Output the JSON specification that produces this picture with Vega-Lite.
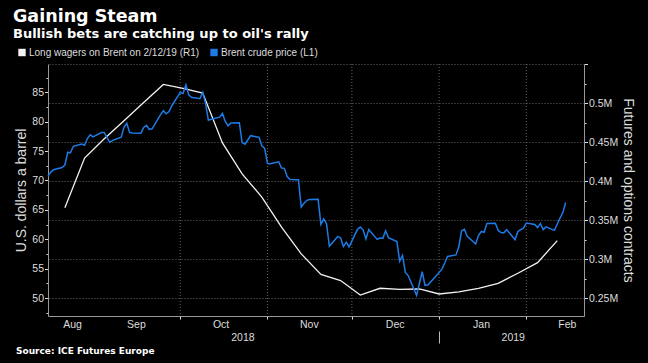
{
  "$schema": "https://vega.github.io/schema/vega-lite/v6.json",
  "width": 536,
  "height": 252,
  "autosize": "none",
  "padding": {"left": 48, "top": 64, "right": 64, "bottom": 47},
  "background": "#000000",
  "title": {
    "text": "Gaining Steam",
    "subtitle": "Bullish bets are catching up to oil's rally",
    "anchor": "start",
    "frame": "group",
    "dx": -35,
    "offset": 7,
    "font": "DejaVu Sans",
    "fontSize": 17.5,
    "fontWeight": "bold",
    "color": "#ffffff",
    "subtitleFont": "DejaVu Sans",
    "subtitleFontSize": 13,
    "subtitleFontWeight": "bold",
    "subtitleColor": "#ffffff",
    "subtitlePadding": 2
  },
  "datasets": {
    "brent": [
      {"date": "2018-08-15", "price": 70.76},
      {"date": "2018-08-16", "price": 71.43},
      {"date": "2018-08-17", "price": 71.83},
      {"date": "2018-08-20", "price": 72.21},
      {"date": "2018-08-21", "price": 72.63},
      {"date": "2018-08-22", "price": 74.78},
      {"date": "2018-08-23", "price": 74.73},
      {"date": "2018-08-24", "price": 75.82},
      {"date": "2018-08-27", "price": 76.21},
      {"date": "2018-08-28", "price": 76.0},
      {"date": "2018-08-29", "price": 77.14},
      {"date": "2018-08-30", "price": 77.77},
      {"date": "2018-08-31", "price": 77.42},
      {"date": "2018-09-03", "price": 78.15},
      {"date": "2018-09-04", "price": 78.17},
      {"date": "2018-09-05", "price": 77.27},
      {"date": "2018-09-06", "price": 76.5},
      {"date": "2018-09-07", "price": 76.83},
      {"date": "2018-09-10", "price": 77.37},
      {"date": "2018-09-11", "price": 79.06},
      {"date": "2018-09-12", "price": 79.74},
      {"date": "2018-09-13", "price": 78.18},
      {"date": "2018-09-14", "price": 78.09},
      {"date": "2018-09-17", "price": 78.05},
      {"date": "2018-09-18", "price": 79.03},
      {"date": "2018-09-19", "price": 79.4},
      {"date": "2018-09-20", "price": 78.7},
      {"date": "2018-09-21", "price": 78.8},
      {"date": "2018-09-24", "price": 81.2},
      {"date": "2018-09-25", "price": 81.87},
      {"date": "2018-09-26", "price": 81.34},
      {"date": "2018-09-27", "price": 81.72},
      {"date": "2018-09-28", "price": 82.72},
      {"date": "2018-10-01", "price": 84.98},
      {"date": "2018-10-02", "price": 84.8},
      {"date": "2018-10-03", "price": 86.29},
      {"date": "2018-10-04", "price": 84.58},
      {"date": "2018-10-05", "price": 84.16},
      {"date": "2018-10-08", "price": 83.91},
      {"date": "2018-10-09", "price": 85.0},
      {"date": "2018-10-10", "price": 83.09},
      {"date": "2018-10-11", "price": 80.26},
      {"date": "2018-10-12", "price": 80.43},
      {"date": "2018-10-15", "price": 80.78},
      {"date": "2018-10-16", "price": 81.41},
      {"date": "2018-10-17", "price": 80.05},
      {"date": "2018-10-18", "price": 79.29},
      {"date": "2018-10-19", "price": 79.78},
      {"date": "2018-10-22", "price": 79.83},
      {"date": "2018-10-23", "price": 76.44},
      {"date": "2018-10-24", "price": 76.17},
      {"date": "2018-10-25", "price": 76.89},
      {"date": "2018-10-26", "price": 77.62},
      {"date": "2018-10-29", "price": 77.34},
      {"date": "2018-10-30", "price": 75.91},
      {"date": "2018-10-31", "price": 75.47},
      {"date": "2018-11-01", "price": 72.89},
      {"date": "2018-11-02", "price": 72.83},
      {"date": "2018-11-05", "price": 73.17},
      {"date": "2018-11-06", "price": 72.13},
      {"date": "2018-11-07", "price": 72.07},
      {"date": "2018-11-08", "price": 70.65},
      {"date": "2018-11-09", "price": 70.18},
      {"date": "2018-11-12", "price": 70.12},
      {"date": "2018-11-13", "price": 65.47},
      {"date": "2018-11-14", "price": 66.12},
      {"date": "2018-11-15", "price": 66.62},
      {"date": "2018-11-16", "price": 66.76},
      {"date": "2018-11-19", "price": 66.79},
      {"date": "2018-11-20", "price": 62.53},
      {"date": "2018-11-21", "price": 63.48},
      {"date": "2018-11-22", "price": 62.6},
      {"date": "2018-11-23", "price": 58.8},
      {"date": "2018-11-26", "price": 60.48},
      {"date": "2018-11-27", "price": 60.21},
      {"date": "2018-11-28", "price": 58.76},
      {"date": "2018-11-29", "price": 59.51},
      {"date": "2018-11-30", "price": 58.71},
      {"date": "2018-12-03", "price": 61.69},
      {"date": "2018-12-04", "price": 62.08},
      {"date": "2018-12-05", "price": 61.56},
      {"date": "2018-12-06", "price": 60.06},
      {"date": "2018-12-07", "price": 61.67},
      {"date": "2018-12-10", "price": 59.97},
      {"date": "2018-12-11", "price": 60.2},
      {"date": "2018-12-12", "price": 60.15},
      {"date": "2018-12-13", "price": 61.45},
      {"date": "2018-12-14", "price": 60.28},
      {"date": "2018-12-17", "price": 59.61},
      {"date": "2018-12-18", "price": 56.26},
      {"date": "2018-12-19", "price": 57.24},
      {"date": "2018-12-20", "price": 54.35},
      {"date": "2018-12-21", "price": 53.82},
      {"date": "2018-12-24", "price": 50.47},
      {"date": "2018-12-26", "price": 54.47},
      {"date": "2018-12-27", "price": 52.16},
      {"date": "2018-12-28", "price": 52.2},
      {"date": "2018-12-31", "price": 53.8},
      {"date": "2019-01-02", "price": 54.91},
      {"date": "2019-01-03", "price": 55.95},
      {"date": "2019-01-04", "price": 57.06},
      {"date": "2019-01-07", "price": 57.33},
      {"date": "2019-01-08", "price": 58.72},
      {"date": "2019-01-09", "price": 61.44},
      {"date": "2019-01-10", "price": 61.68},
      {"date": "2019-01-11", "price": 60.48},
      {"date": "2019-01-14", "price": 59.2},
      {"date": "2019-01-15", "price": 60.64},
      {"date": "2019-01-16", "price": 61.32},
      {"date": "2019-01-17", "price": 61.18},
      {"date": "2019-01-18", "price": 62.7},
      {"date": "2019-01-21", "price": 62.74},
      {"date": "2019-01-22", "price": 61.5},
      {"date": "2019-01-23", "price": 61.14},
      {"date": "2019-01-24", "price": 61.09},
      {"date": "2019-01-25", "price": 61.64},
      {"date": "2019-01-28", "price": 59.93},
      {"date": "2019-01-29", "price": 61.32},
      {"date": "2019-01-30", "price": 61.65},
      {"date": "2019-01-31", "price": 61.89},
      {"date": "2019-02-01", "price": 62.75},
      {"date": "2019-02-04", "price": 62.51},
      {"date": "2019-02-05", "price": 61.98},
      {"date": "2019-02-06", "price": 62.69},
      {"date": "2019-02-07", "price": 61.63},
      {"date": "2019-02-08", "price": 62.1},
      {"date": "2019-02-11", "price": 61.51},
      {"date": "2019-02-12", "price": 62.6},
      {"date": "2019-02-13", "price": 63.61},
      {"date": "2019-02-14", "price": 64.57},
      {"date": "2019-02-15", "price": 66.25}
    ],
    "cot": [
      {"date": "2018-08-21", "contracts": 365800},
      {"date": "2018-08-28", "contracts": 429500},
      {"date": "2018-09-04", "contracts": 454200},
      {"date": "2018-09-11", "contracts": 477400},
      {"date": "2018-09-18", "contracts": 500600},
      {"date": "2018-09-25", "contracts": 523800},
      {"date": "2018-10-02", "contracts": 518700},
      {"date": "2018-10-09", "contracts": 512800},
      {"date": "2018-10-16", "contracts": 449000},
      {"date": "2018-10-23", "contracts": 409400},
      {"date": "2018-10-30", "contracts": 379500},
      {"date": "2018-11-06", "contracts": 341000},
      {"date": "2018-11-13", "contracts": 306800},
      {"date": "2018-11-20", "contracts": 280500},
      {"date": "2018-11-27", "contracts": 272700},
      {"date": "2018-12-04", "contracts": 254200},
      {"date": "2018-12-11", "contracts": 262800},
      {"date": "2018-12-18", "contracts": 261500},
      {"date": "2018-12-25", "contracts": 261900},
      {"date": "2019-01-01", "contracts": 255500},
      {"date": "2019-01-08", "contracts": 258300},
      {"date": "2019-01-15", "contracts": 262800},
      {"date": "2019-01-22", "contracts": 269200},
      {"date": "2019-01-29", "contracts": 282000},
      {"date": "2019-02-05", "contracts": 295600},
      {"date": "2019-02-12", "contracts": 323800}
    ],
    "monthStarts": [
      {"date": "2018-10-01"},
      {"date": "2018-11-01"},
      {"date": "2018-12-01"},
      {"date": "2019-01-01"},
      {"date": "2019-02-01"}
    ]
  },
  "layer": [
    {
      "data": {"name": "monthStarts"},
      "mark": {"type": "rule", "stroke": "#666666", "strokeWidth": 1, "strokeDash": [1, 2]},
      "encoding": {
        "x": {
          "field": "date",
          "type": "temporal",
          "scale": {"type": "utc", "domain": [{"year": 2018, "month": 8, "date": 15, "utc": true}, {"year": 2019, "month": 2, "date": 21, "hours": 12, "utc": true}]},
          "axis": {
            "orient": "bottom",
            "values": [
              {"year": 2018, "month": 10, "date": 23, "hours": 2, "utc": true},
              {"year": 2019, "month": 1, "date": 1, "utc": true},
              {"year": 2019, "month": 1, "date": 27, "hours": 4, "utc": true}
            ],
            "offset": 15,
            "domain": false,
            "grid": false,
            "ticks": true,
            "tickSize": 12,
            "tickColor": "#bbbbbb",
            "tickOpacity": {"condition": {"test": "utcmonth(datum.value) == 0 && utcdate(datum.value) == 1", "value": 1}, "value": 0},
            "labelExpr": "utcmonth(datum.value) == 0 && utcdate(datum.value) == 1 ? '' : utcFormat(datum.value, '%Y')",
            "labelPadding": -11,
            "labelBaseline": "top",
            "labelFont": "Liberation Sans",
            "labelFontSize": 10.5,
            "labelColor": "#dddddd",
            "title": "Source: ICE Futures Europe",
            "titleFont": "DejaVu Sans",
            "titleFontSize": 9,
            "titleFontWeight": "bold",
            "titleColor": "#ffffff",
            "titleAlign": "left",
            "titleBaseline": "alphabetic",
            "titleAngle": 0,
            "titleX": -32.5,
            "titleY": 22
          }
        }
      }
    },
    {
      "data": {"name": "cot"},
      "mark": {"type": "line", "strokeWidth": 1.3},
      "encoding": {
        "x": {
          "field": "date",
          "type": "temporal",
          "scale": {"type": "utc", "domain": [{"year": 2018, "month": 8, "date": 15, "utc": true}, {"year": 2019, "month": 2, "date": 21, "hours": 12, "utc": true}]},
          "axis": {
            "orient": "bottom",
            "values": [
              {"year": 2018, "month": 8, "date": 23, "hours": 13, "utc": true},
              {"year": 2018, "month": 9, "date": 15, "hours": 6, "utc": true},
              {"year": 2018, "month": 10, "date": 15, "hours": 8, "utc": true},
              {"year": 2018, "month": 11, "date": 15, "hours": 17, "utc": true},
              {"year": 2018, "month": 12, "date": 16, "hours": 5, "utc": true},
              {"year": 2019, "month": 1, "date": 15, "hours": 22, "utc": true},
              {"year": 2019, "month": 2, "date": 15, "hours": 10, "utc": true}
            ],
            "labelExpr": "utcFormat(datum.value, '%b')",
            "ticks": false,
            "domain": false,
            "grid": false,
            "labelPadding": 3,
            "labelFlush": false,
            "labelFont": "Liberation Sans",
            "labelFontSize": 10.5,
            "labelColor": "#dddddd",
            "title": null
          }
        },
        "y": {
          "field": "contracts",
          "type": "quantitative",
          "scale": {"domain": [227300, 550000], "nice": false, "zero": false},
          "axis": {
            "orient": "right",
            "values": [250000, 275000, 300000, 325000, 350000, 375000, 400000, 425000, 450000, 475000, 500000, 525000, 550000],
            "labelExpr": "datum.value % 50000 == 0 && datum.value < 540000 ? format(datum.value / 1000000, '.2~f') + 'M' : ''",
            "tickSize": {"condition": {"test": "datum.value % 50000 == 0", "value": 3.5}, "value": 2},
            "tickColor": "#dddddd",
            "domainColor": "#999999",
            "grid": true,
            "gridColor": "#666666",
            "gridDash": [1, 2],
            "gridOpacity": {"condition": {"test": "datum.value % 50000 == 0", "value": 1}, "value": 0},
            "labelPadding": 1,
            "labelFont": "Liberation Sans",
            "labelFontSize": 10.5,
            "labelColor": "#dddddd",
            "labelFlush": false,
            "title": "Futures and options contracts",
            "titleFont": "Liberation Sans",
            "titleFontSize": 14,
            "titleFontWeight": "normal",
            "titleColor": "#dddddd",
            "titlePadding": 3
          }
        },
        "color": {
          "datum": "Long wagers on Brent on 2/12/19 (R1)",
          "type": "nominal",
          "scale": {"domain": ["Long wagers on Brent on 2/12/19 (R1)", "Brent crude price (L1)"], "range": ["#f2f2f2", "#1e7be6"]},
          "legend": {
            "orient": "none",
            "legendX": -31,
            "legendY": -16.5,
            "direction": "horizontal",
            "title": null,
            "padding": 0,
            "symbolType": "square",
            "symbolSize": 55,
            "symbolStrokeWidth": 0,
            "labelFont": "Liberation Sans",
            "labelFontSize": 10,
            "labelLimit": 400,
            "labelColor": "#dddddd",
            "labelOffset": 2,
            "columnPadding": 9,
            "encode": {"symbols": {"update": {"fill": {"scale": "color", "field": "value"}, "fillOpacity": {"value": 1}, "strokeWidth": {"value": 0}}}}
          }
        }
      }
    },
    {
      "data": {"name": "brent"},
      "mark": {"type": "line", "strokeWidth": 1.5},
      "encoding": {
        "x": {
          "field": "date",
          "type": "temporal",
          "scale": {"type": "utc", "domain": [{"year": 2018, "month": 8, "date": 15, "utc": true}, {"year": 2019, "month": 2, "date": 21, "hours": 12, "utc": true}]},
          "axis": {
            "orient": "bottom",
            "values": [
              {"year": 2018, "month": 10, "date": 1, "utc": true},
              {"year": 2018, "month": 11, "date": 1, "utc": true},
              {"year": 2018, "month": 12, "date": 1, "utc": true},
              {"year": 2019, "month": 1, "date": 1, "utc": true},
              {"year": 2019, "month": 2, "date": 1, "utc": true}
            ],
            "labels": false,
            "ticks": true,
            "tickSize": 3,
            "tickColor": "#dddddd",
            "domain": true,
            "domainColor": "#999999",
            "grid": false,
            "title": null
          }
        },
        "y": {
          "field": "price",
          "type": "quantitative",
          "scale": {"domain": [46.94, 89.82], "nice": false, "zero": false},
          "axis": {
            "orient": "left",
            "values": [47.5, 50, 52.5, 55, 57.5, 60, 62.5, 65, 67.5, 70, 72.5, 75, 77.5, 80, 82.5, 85, 87.5],
            "labelExpr": "datum.value % 5 == 0 ? format(datum.value, 'd') : ''",
            "tickSize": {"condition": {"test": "datum.value % 5 == 0", "value": 3.5}, "value": 2},
            "tickColor": "#dddddd",
            "domainColor": "#999999",
            "grid": false,
            "labelPadding": 1,
            "labelFont": "Liberation Sans",
            "labelFontSize": 10.5,
            "labelColor": "#dddddd",
            "labelFlush": false,
            "title": "U.S. dollars a barrel",
            "titleFont": "Liberation Sans",
            "titleFontSize": 14,
            "titleFontWeight": "normal",
            "titleColor": "#dddddd",
            "titlePadding": 3
          }
        },
        "color": {
          "datum": "Brent crude price (L1)",
          "type": "nominal",
          "scale": {"domain": ["Long wagers on Brent on 2/12/19 (R1)", "Brent crude price (L1)"], "range": ["#f2f2f2", "#1e7be6"]}
        }
      }
    }
  ],
  "resolve": {"scale": {"y": "independent"}, "axis": {"x": "independent", "y": "independent"}},
  "config": {
    "view": {"stroke": null},
    "axis": {"labelFont": "Liberation Sans", "titleFont": "Liberation Sans"}
  }
}
